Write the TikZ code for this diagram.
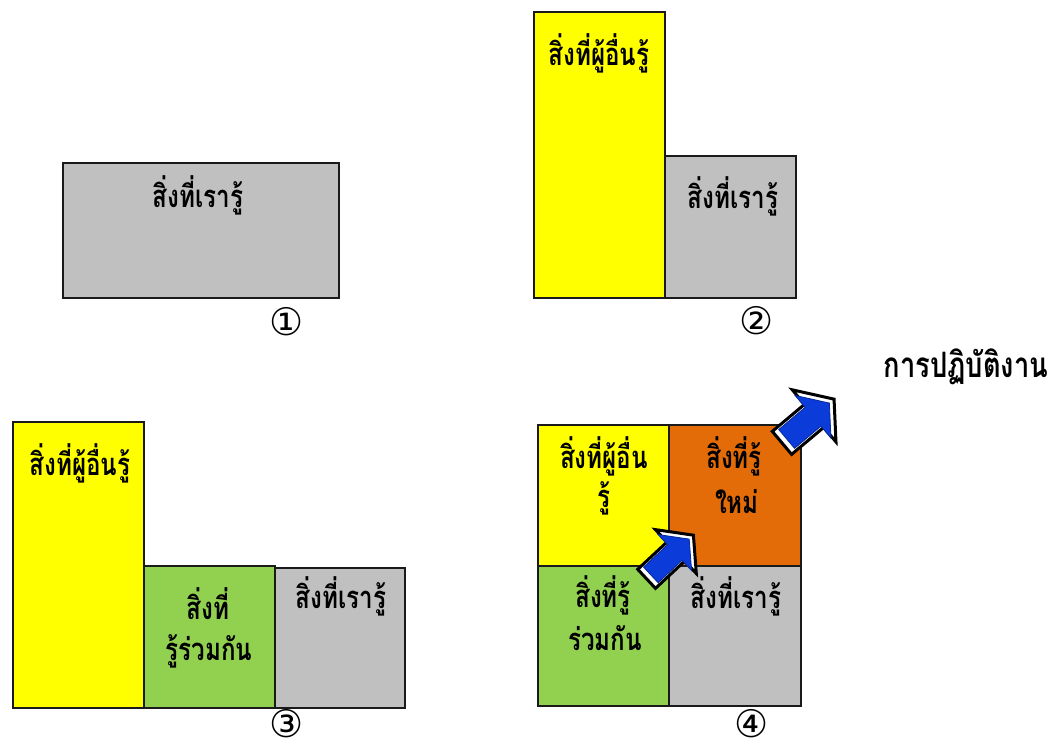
\documentclass[tikz,border=0pt]{standalone}
\usepackage{fontspec}
\newfontfamily\thaifont[Script=Thai, FakeStretch=0.78]{Loma}
\newfontfamily\symfont{DejaVu Sans}
\definecolor{kyellow}{HTML}{FFFF00}
\definecolor{kgray}{HTML}{C0C0C0}
\definecolor{kgreen}{HTML}{92D050}
\definecolor{korange}{HTML}{E36C09}
\definecolor{kblue}{HTML}{0B3BD9}
\definecolor{kline}{HTML}{1A1A1A}
\tikzset{
  box/.style={draw=kline, line width=1.6pt, inner sep=0pt, anchor=north west},
  lbl/.style={font=\thaifont\bfseries\fontsize{31}{34}\selectfont, anchor=base, inner sep=0pt},
  ttl/.style={font=\thaifont\bfseries\fontsize{35}{38}\selectfont, anchor=base, inner sep=0pt},
  num/.style={font=\symfont\fontsize{38}{40}\selectfont, inner sep=0pt},
}
\newcommand\blockarrow[6]{% center, angle, half length, shaft half width, head half width, head length
  \begin{scope}[shift={#1}, rotate=#2]
    \filldraw[fill=white, draw=black, line width=3pt, line join=miter]
      (-#3,-#4) -- (#3-#6,-#4) -- (#3-#6,-#5) -- (#3,0) -- (#3-#6,#5) -- (#3-#6,#4) -- (-#3,#4) -- cycle;
    \begin{scope}[scale=0.82]
      \filldraw[fill=kblue, draw=kblue!70!black, line width=0.8pt]
        (-#3,-#4) -- (#3-#6,-#4) -- (#3-#6,-#5) -- (#3,0) -- (#3-#6,#5) -- (#3-#6,#4) -- (-#3,#4) -- cycle;
    \end{scope}
  \end{scope}}
\begin{document}
\begin{tikzpicture}[x=1pt, y=-1pt]
\useasboundingbox (0,0) rectangle (1061,745);
% Panel 1
\node[box, fill=kgray, minimum width=276pt, minimum height=135pt] (p1w) at (62,162) {};
\node[lbl] (t1w) at (198,207) {สิ่งที่เรารู้};
\node[num] (n1) at (287,322) {①};
% Panel 2
\node[box, fill=kyellow, minimum width=131pt, minimum height=286pt] (p2o) at (533,11) {};
\node[box, fill=kgray, minimum width=131pt, minimum height=142pt] (p2w) at (664,155) {};
\node[lbl] (t2o) at (599,65) {สิ่งที่ผู้อื่นรู้};
\node[lbl] (t2w) at (733,208) {สิ่งที่เรารู้};
\node[num] (n2) at (757,321) {②};
% Panel 3
\node[box, fill=kyellow, minimum width=131pt, minimum height=286pt] (p3o) at (12,421) {};
\node[box, fill=kgreen, minimum width=131pt, minimum height=142pt] (p3s) at (143,565) {};
\node[box, fill=kgray, minimum width=130pt, minimum height=140pt] (p3w) at (274,567) {};
\node[lbl] (t3o) at (80,475) {สิ่งที่ผู้อื่นรู้};
\node[lbl] (t3sa) at (208,619) {สิ่งที่};
\node[lbl] (t3sb) at (209,660) {รู้ร่วมกัน};
\node[lbl] (t3w) at (341,608) {สิ่งที่เรารู้};
\node[num] (n3) at (287,724) {③};
% Panel 4
\node[box, fill=kyellow, minimum width=131pt, minimum height=141pt] (p4o) at (537,424) {};
\node[box, fill=korange, minimum width=132pt, minimum height=141pt] (p4n) at (668,424) {};
\node[box, fill=kgreen, minimum width=131pt, minimum height=140pt] (p4s) at (537,565) {};
\node[box, fill=kgray, minimum width=132pt, minimum height=140pt] (p4w) at (668,565) {};
\node[lbl] (t4oa) at (604,468) {สิ่งที่ผู้อื่น};
\node[lbl] (t4ob) at (604,507) {รู้};
\node[lbl] (t4na) at (734,468) {สิ่งที่รู้};
\node[lbl] (t4nb) at (737,513) {ใหม่};
\node[lbl] (t4sa) at (603,607) {สิ่งที่รู้};
\node[lbl] (t4sb) at (605,650) {ร่วมกัน};
\node[lbl] (t4w) at (736,608) {สิ่งที่เรารู้};
\node[num] (n4) at (752,724) {④};
\node[ttl] (prac) at (966,377) {การปฏิบัติงาน};
% arrows
\blockarrow{(670,557)}{43}{32}{13}{30}{24}
\blockarrow{(808,421)}{40}{34}{15}{34}{26}
\end{tikzpicture}
\end{document}
